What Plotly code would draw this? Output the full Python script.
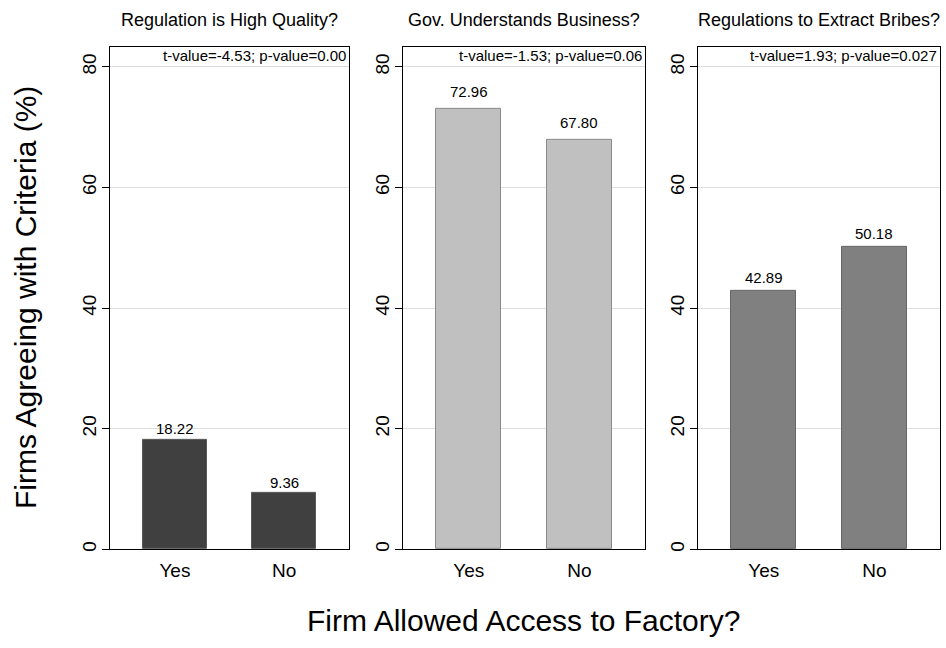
import plotly.graph_objects as go

# Survey results: share of firms agreeing, by whether the firm allowed factory access
categories = ["Yes", "No"]
panel_titles = [
    "Regulation is High Quality?",
    "Gov. Understands Business?",
    "Regulations to Extract Bribes?",
]
values_quality = [18.22, 9.36]
values_understands = [72.96, 67.80]
values_bribes = [42.89, 50.18]
test_labels = [
    "t-value=-4.53; p-value=0.00",
    "t-value=-1.53; p-value=0.06",
    "t-value=1.93; p-value=0.027",
]
y_ticks = [0, 20, 40, 60, 80]

series = [values_quality, values_understands, values_bribes]
fills = ["#404040", "#c0c0c0", "#808080"]
outlines = ["#5a5a5a", "#8a8a8a", "#666666"]
label_shift = [0, 7, 3]

W, H = 946, 648
x_domains = [(110, 349), (403, 645), (698, 940)]
y_bottom, y_top = 551, 47
y_dom = [(H - y_bottom) / H, (H - y_top) / H]

FONT = "Liberation Sans, Arial, sans-serif"

fig = go.Figure()
layout = dict(
    width=W, height=H,
    margin=dict(l=0, r=0, t=0, b=0),
    paper_bgcolor="white", plot_bgcolor="white",
    showlegend=False,
    font=dict(family=FONT, color="black"),
    bargap=0,
)
annotations = []

for i, vals in enumerate(series):
    n = "" if i == 0 else str(i + 1)
    xa, ya = "x" + n, "y" + n
    fig.add_trace(go.Bar(
        x=categories, y=vals, xaxis=xa, yaxis=ya,
        width=0.584,
        marker=dict(color=fills[i], line=dict(color=outlines[i], width=1)),
        hoverinfo="skip",
    ))
    x0, x1 = x_domains[i]
    layout["xaxis" + n] = dict(
        domain=[x0 / W, x1 / W], anchor=ya,
        type="category", range=[-0.594, 1.594],
        showline=True, linecolor="black", linewidth=1, mirror=True,
        ticks="", showgrid=False, zeroline=False,
        ticklabelstandoff=4,
        tickfont=dict(size=19, family=FONT),
    )
    layout["yaxis" + n] = dict(
        domain=y_dom, anchor=xa,
        range=[0, 83.3],
        tickvals=y_ticks, ticktext=[str(t) for t in y_ticks],
        tickangle=-90, ticks="outside", ticklen=7, tickcolor="black",
        ticklabelstandoff=-2,
        tickfont=dict(size=19, family=FONT),
        showline=True, linecolor="black", linewidth=1, mirror=True,
        showgrid=True, gridcolor="#dedede", gridwidth=1,
        zeroline=False,
    )
    # panel title
    annotations.append(dict(
        text=panel_titles[i], xref="paper", yref="paper",
        x=(x0 + x1) / 2 / W, y=(H - 20) / H,
        xanchor="center", yanchor="middle", showarrow=False,
        font=dict(size=18, family=FONT),
    ))
    # t-test note in the upper right corner
    annotations.append(dict(
        text=test_labels[i], xref=xa + " domain", yref=ya + " domain",
        x=1, y=1, xanchor="right", yanchor="top", showarrow=False,
        xshift=-1, yshift=2,
        font=dict(size=15, family=FONT),
    ))
    # value labels above bars
    for c, v in zip(categories, vals):
        annotations.append(dict(
            text=f"{v:.2f}", xref=xa, yref=ya, x=c, y=v,
            xanchor="center", yanchor="bottom", showarrow=False,
            yshift=label_shift[i],
            font=dict(size=15, family=FONT),
        ))

annotations.append(dict(
    text="Firms Agreeing with Criteria (%)", xref="paper", yref="paper",
    x=25 / W, y=(H - 299) / H, textangle=-90,
    xanchor="center", yanchor="middle", showarrow=False,
    font=dict(size=30, family=FONT),
))
annotations.append(dict(
    text="Firm Allowed Access to Factory?", xref="paper", yref="paper",
    x=523 / W, y=(H - 622) / H,
    xanchor="center", yanchor="middle", showarrow=False,
    font=dict(size=30, family=FONT),
))

layout["annotations"] = annotations
fig.update_layout(**layout)
fig.write_html("out.html")
